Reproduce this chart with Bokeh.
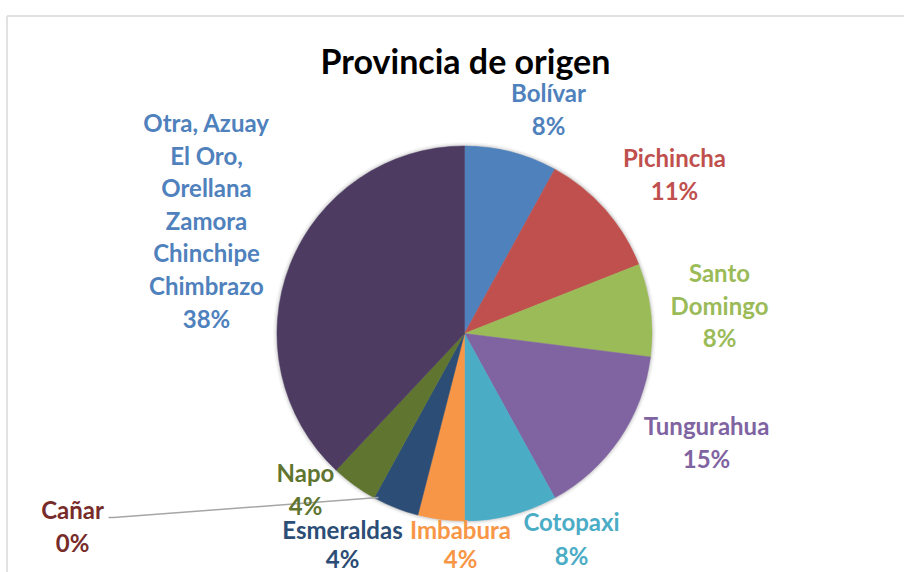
import math
from bokeh.plotting import figure
from bokeh.models import Range1d, ColumnDataSource
from bokeh.core.properties import value
from bokeh.embed import file_html
from bokeh.resources import INLINE

# ---- data ----
provinces = ["Bolívar", "Pichincha", "Santo\nDomingo", "Tungurahua", "Cotopaxi",
             "Imbabura", "Esmeraldas", "Cañar", "Napo",
             "Otra, Azuay\nEl Oro,\nOrellana\nZamora\nChinchipe\nChimbrazo"]
percents = [8, 11, 8, 15, 8, 4, 4, 0, 4, 38]
slice_colors = ["#4F81BD", "#C0504D", "#9BBB59", "#8064A2", "#4BACC6",
                "#F79646", "#2C4D75", "#772C2A", "#5F7530", "#4D3B62"]
label_colors = ["#4F81BD", "#C0504D", "#9BBB59", "#8064A2", "#4BACC6",
                "#F79646", "#2C4D75", "#772C2A", "#5F7530", "#4F81BD"]
title_text = "Provincia de origen"

# ---- layout (image pixel coords, y downwards) ----
W, H = 904, 572
cx, cy, R = 464, 333, 187.5
label_anchor = [(548, 92), (674, 157), (719, 272), (706, 425), (571, 521),
                (460, 529), (342, 529), (72, 509), (305, 472), (206, 122)]
label_step = [32.6, 32.6, 32.6, 32.6, 33.5, 29.0, 29.0, 32.6, 32.6, 32.6]
FONT = "Lato"

def Y(yimg):
    return H - yimg

p = figure(width=W, height=H, x_range=Range1d(0, W), y_range=Range1d(0, H),
           output_backend="svg", toolbar_location=None, min_border=0)
p.axis.visible = False
p.grid.visible = False
p.outline_line_color = None
p.background_fill_color = "white"

# chart border (top and left)
p.line([6.5, W], [Y(15.5), Y(15.5)], line_color="#D9D9D9", line_width=1.5)
p.line([6.5, 6.5], [Y(15.5), 0], line_color="#D9D9D9", line_width=1.5)

# soft shadow around pie
for dr, a in [(4.0, 0.03), (2.5, 0.05), (1.2, 0.08)]:
    p.circle(x=[cx], y=[Y(cy)], radius=R + dr, fill_color="black", fill_alpha=a, line_color=None)

# wedges (clockwise from 12 o'clock); zero-size slices are skipped
total = sum(percents)
sx, sy, starts, ends, scol = [], [], [], [], []
cum = 0.0
for v, c in zip(percents, slice_colors):
    a0 = math.pi / 2 - 2 * math.pi * cum / total
    cum += v
    a1 = math.pi / 2 - 2 * math.pi * cum / total
    if v > 0:
        sx.append(cx); sy.append(Y(cy)); starts.append(a0); ends.append(a1); scol.append(c)
src = ColumnDataSource(dict(x=sx, y=sy, start=starts, end=ends, color=scol))
p.wedge(x="x", y="y", radius=R, start_angle="start", end_angle="end", direction="clock",
        fill_color="color", line_color="color", line_width=0.5, source=src)

# leader line for Cañar
p.line([108, 113, 378], [Y(517), Y(517), Y(497)], line_color="#A6A6A6", line_width=1.5)

# labels
xs, ys, txt, cols = [], [], [], []
for name, pct, col, (ax, ay), step in zip(provinces, percents, label_colors, label_anchor, label_step):
    lines = name.split("\n") + [f"{pct}%"]
    for i, ln in enumerate(lines):
        xs.append(ax)
        ys.append(Y(ay + i * step))
        txt.append(ln)
        cols.append(col)
lsrc = ColumnDataSource(dict(x=xs, y=ys, text=txt, color=cols))
p.text(x="x", y="y", text="text", text_color="color", source=lsrc,
       text_font=value(FONT), text_font_style="bold", text_font_size="24px",
       text_align="center", text_baseline="middle")

# title
p.text(x=[465], y=[Y(60)], text=[title_text], text_color="black",
       text_font=value(FONT), text_font_style="bold", text_font_size="34px",
       text_align="center", text_baseline="middle")

open("out.html", "w").write(file_html(p, INLINE))
